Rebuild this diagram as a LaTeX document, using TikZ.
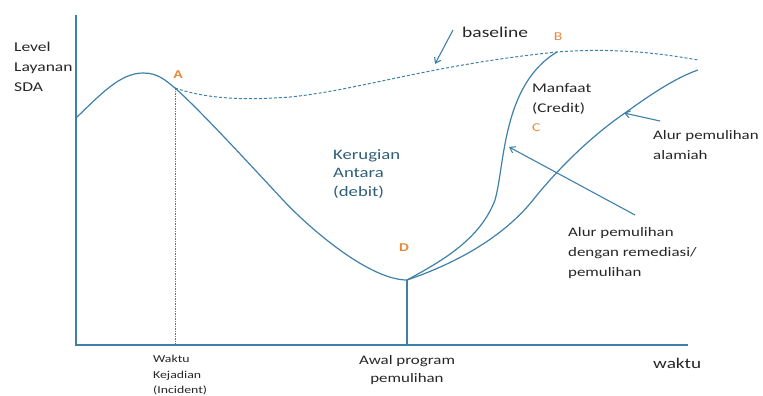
\documentclass[tikz,border=0pt]{standalone}
\usepackage{fontspec}
\setmainfont{Carlito}[FakeStretch=1.3]
\usetikzlibrary{arrows.meta}
\definecolor{lineblue}{HTML}{3F80AB}
\definecolor{labelorange}{HTML}{E8883A}
\definecolor{textteal}{HTML}{2F5E78}
\definecolor{textgray}{HTML}{262626}
\tikzset{
  curve/.style={draw=lineblue, line width=1.2pt},
  base/.style={draw=lineblue, line width=1pt, dash pattern=on 3pt off 2pt},
  pointer/.style={draw=lineblue, line width=1.1pt, -{Straight Barb[length=5pt, width=7pt]}},
  letter/.style={text=labelorange, font=\bfseries\fontsize{12}{12}\selectfont},
  caption/.style={align=left, text=textgray, inner sep=0pt}
}
\begin{document}
\begin{tikzpicture}[x=1pt, y=-1pt]
  \useasboundingbox (0,0) rectangle (763,396);
  % axes
  \coordinate (o) at (76,345);
  \coordinate (ytop) at (76,15);
  \coordinate (xend) at (688,345);
  \draw[lineblue, line width=1.4pt] (ytop) -- (o) -- (xend);
  % points on the curves
  \coordinate (A) at (175,88);
  \coordinate (B) at (557,52);
  \coordinate (D) at (407,280);
  \coordinate (Nend) at (698,70);
  \coordinate (Bend) at (698,60);
  % service level before and after the incident
  \draw[curve] (76,118) .. controls (100,95) and (120,73) .. (143,73)
    .. controls (158,73) and (165,80) .. (A)
    .. controls (200,110) and (255,170) .. (283,200)
    .. controls (311,230) and (370,280) .. (D);
  % baseline
  \draw[base] (A) .. controls (210,100) and (250,100) .. (290,97)
    .. controls (360,90) and (430,65) .. (B)
    .. controls (620,47) and (670,55) .. (Bend);
  % recovery paths
  \draw[curve] (D) .. controls (440,262) and (480,240) .. (495,200)
    .. controls (505,165) and (502,85) .. (B);
  \draw[curve] (D) .. controls (460,262) and (505,235) .. (533,200)
    .. controls (565,160) and (600,130) .. (625,113)
    .. controls (650,95) and (675,78) .. (Nend);
  % markers down to the time axis
  \draw[lineblue, line width=0.8pt, dash pattern=on 1.5pt off 1pt] (A) -- (A |- o);
  \draw[lineblue, line width=1.2pt] (D) -- (D |- o);
  % labels
  \node[caption, anchor=north west, font=\fontsize{13.5}{20}\selectfont] (level) at (14,41.6) {Level\\Layanan\\SDA};
  \node[letter] (a) at (178,75) {A};
  \node[letter, font=\fontsize{12}{12}\selectfont] (b) at (558,37) {B};
  \node[letter] (d) at (404,248) {D};
  \node[caption, anchor=west, font=\fontsize{15}{16}\selectfont] (baseline) at (462,32) {baseline};
  \node[caption, anchor=north west, font=\fontsize{13.3}{20}\selectfont] (credit) at (532,82.7) {Manfaat\\(Credit)};
  \node[letter, anchor=west, font=\fontsize{12}{12}\selectfont, inner sep=0pt] (c) at (532,128) {C};
  \node[caption, anchor=north west, text=textteal, font=\fontsize{14.4}{18.5}\selectfont] (loss) at (333,149) {Kerugian\\Antara\\(debit)};
  \node[caption, anchor=north west, font=\fontsize{13}{20}\selectfont] (natural) at (653,130) {Alur pemulihan\\alamiah};
  \node[caption, anchor=north west, font=\fontsize{13}{20}\selectfont] (remedy) at (568,227) {Alur pemulihan\\dengan remediasi/\\pemulihan};
  \node[caption, anchor=north west, font=\fontsize{10.6}{15.5}\selectfont] (incident) at (153,355) {Waktu\\Kejadian\\(Incident)};
  \node[caption, anchor=north, align=center, font=\fontsize{13}{18}\selectfont] (start) at (407,355) {Awal program\\pemulihan};
  \node[caption, anchor=west, font=\fontsize{14.8}{16}\selectfont] (time) at (653,363) {waktu};
  % pointers
  \coordinate (baseTip) at (435,64);
  \coordinate (natTip) at (624,113);
  \coordinate (remTip) at (509,147);
  \draw[pointer] (453,30) -- (baseTip);
  \draw[pointer] (660,121) -- (natTip);
  \draw[pointer] (635,215) -- (remTip);
\end{tikzpicture}
\end{document}
